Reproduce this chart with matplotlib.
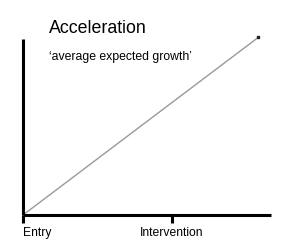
import matplotlib.pyplot as plt

plt.rcParams['font.family'] = ['Liberation Sans', 'DejaVu Sans']

# growth line, x in units of the Entry->Intervention distance
growth_x = [0.0, 1.58]
growth_y = [0.0, 1.01]
tick_pos = [0, 1]
tick_labels = ['Entry', 'Intervention']

fig = plt.figure(figsize=(3.0, 2.52), dpi=100)
ax = fig.add_axes([23/300, 37/252, 248/300, 176/252])

ax.plot(growth_x, growth_y, color='#999999', lw=1.0, clip_on=False)
ax.plot(growth_x[-1:], growth_y[-1:], 's', color='#222222', ms=1.8, clip_on=False)

ax.set_xlim(0, 1.664)
ax.set_ylim(0, 1)
for s in ['top', 'right']:
    ax.spines[s].set_visible(False)
for s in ['left', 'bottom']:
    ax.spines[s].set_linewidth(2.2)
    ax.spines[s].set_capstyle('butt')
ax.set_yticks([])
ax.set_xticks(tick_pos)
ax.set_xticklabels(tick_labels, fontsize=8.7)
ax.tick_params(axis='x', length=6, width=2.2, pad=2.5)
ax.get_xticklabels()[0].set_horizontalalignment('left')
ax.get_xticklabels()[1].set_horizontalalignment('center')

fig.text(49/300, 1 - 33/252, 'Acceleration', fontsize=12.8, va='baseline')
fig.text(49/300, 1 - 60/252, '\u2018average expected growth\u2019', fontsize=8.8, va='baseline')

fig.savefig('out.png', dpi=100)
